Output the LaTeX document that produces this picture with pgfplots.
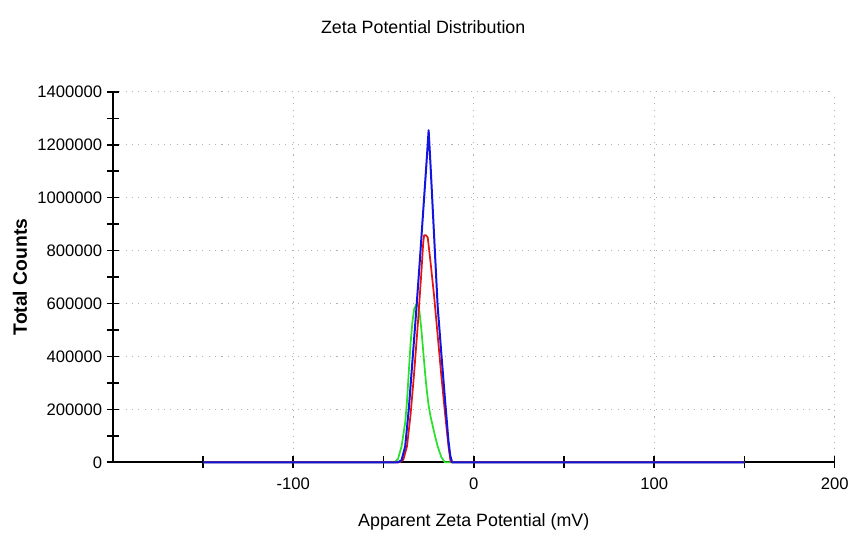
\documentclass[border=0pt]{standalone}
\usepackage{fontspec}
\setmainfont{Liberation Sans}
\usepackage{pgfplots}
\pgfplotsset{compat=1.18}
\usepackage{pgfplotstable}

\definecolor{zblue}{RGB}{20,20,225}
\definecolor{zred}{RGB}{225,20,20}
\definecolor{zgreen}{RGB}{40,225,40}

% Apparent zeta potential (mV) vs total counts, one table per run
\pgfplotstableread{
x y
-150 0
-44 0
-42 12000
-40 60000
-38 150000
-37 230000
-36 340000
-35 450000
-34 530000
-33 580000
-31.5 600000
-30.5 590000
-30 565000
-29 500000
-28 420000
-27 340000
-26 270000
-25 215000
-24 175000
-22 115000
-20 60000
-18 20000
-16 0
150 0
}\greendata

\pgfplotstableread{
x y
-150 0
-41 0
-39 10000
-37 60000
-35 180000
-33 340000
-31 520000
-29 720000
-28 830000
-27.5 858000
-26.5 858000
-25.5 850000
-25 820000
-24 760000
-22 630000
-20 480000
-18 330000
-16 190000
-14 60000
-13 10000
-12.5 0
150 0
}\reddata

\pgfplotstableread{
x y
-150 0
-42 0
-40 8000
-38 60000
-36 200000
-34 380000
-32 560000
-30 750000
-28 950000
-26 1150000
-25 1255000
-24 1130000
-22 860000
-20 590000
-18 414000
-16 243000
-14 80000
-13 25000
-12 0
150 0
}\bluedata

\begin{document}
\begin{tikzpicture}
\begin{axis}[scale only axis,width=542.25pt,height=278.25pt,
xmin=-200,xmax=200,ymin=0,ymax=1400000,
axis lines=left,axis line style={-,line width=1.2pt},clip=false,
xtick={-100,0,100,200},minor xtick={-150,-50,50,150},
ytick={0,200000,...,1400000},minor ytick={100000,300000,...,1300000},
tick align=center,major tick length=9pt,minor tick length=9pt,
every tick/.style={black,line width=1.2pt},
grid=major,major grid style={gray!60,line width=0.8pt,dash pattern=on 0.8pt off 4pt},
scaled y ticks=false,
yticklabel style={/pgf/number format/fixed,/pgf/number format/1000 sep={}},
/pgf/number format/assume math mode=true,
ticklabel style={font=\fontsize{12.5}{14}\selectfont},
xticklabel style={yshift=-4pt},
every axis title shift=0pt,
title={Zeta Potential Distribution},
title style={at={(axis description cs:0.43,1.175)},anchor=center,font=\fontsize{13.4}{15}\selectfont},
xlabel={Apparent Zeta Potential (mV)},
xlabel style={at={(axis description cs:0.5,0)},yshift=-45pt,anchor=center,font=\fontsize{13.4}{15}\selectfont},
ylabel={Total Counts},
ylabel style={at={(axis description cs:-0.1286,0.5)},anchor=center,font=\bfseries\fontsize{14.5}{16}\selectfont}]
\addplot[zgreen,line width=1.3pt,line join=round] table {\greendata};
\addplot[zred,line width=1.3pt,line join=round] table {\reddata};
\addplot[zblue,line width=1.5pt,line join=round] table {\bluedata};
\end{axis}
\path (current axis.south west) ++(-84.75pt,-57.75pt) rectangle ++(639.75pt,405pt);
\end{tikzpicture}
\end{document}
